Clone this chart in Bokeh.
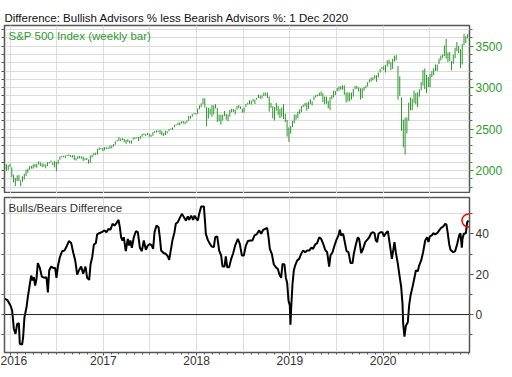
import numpy as np
import pandas as pd
from bokeh.plotting import figure
from bokeh.layouts import column
from bokeh.models import Range1d, LinearAxis, FixedTicker, Grid, Span, Label
from bokeh.embed import file_html
from bokeh.resources import INLINE

TITLE = "Difference: Bullish Advisors % less Bearish Advisors %: 1 Dec 2020"
SPX_LABEL = "S&P 500 Index (weekly bar)"
DIFF_LABEL = "Bulls/Bears Difference"

# ---- S&P 500 weekly bars (week ending Fridays, first week 11 Dec 2015) ----
spx_first_week = "2015-12-11"
spx_low = [
    2012, 1993, 2005, 2043,
    1918, 1857, 1812, 1872, 1872, 1810, 1865, 1891, 1931, 1970,
    2008, 2022, 2022, 2039, 2033, 2074, 2052, 2039, 2045, 2026,
    2052, 2085, 2097, 2065, 2037, 1992, 2075, 2130, 2158, 2159,
    2147, 2175, 2172, 2160, 2157, 2127, 2119, 2139, 2145, 2142,
    2114, 2124, 2125, 2083, 2091, 2156, 2182, 2187, 2192, 2248,
    2254, 2233,
    2245, 2258, 2259, 2263, 2267, 2288, 2311, 2352, 2356, 2354,
    2366, 2342, 2322, 2344, 2328, 2323, 2372, 2378, 2387, 2353,
    2382, 2407, 2427, 2416, 2428, 2405, 2407, 2419, 2454, 2459,
    2465, 2437, 2425, 2417, 2428, 2447, 2474, 2495, 2488, 2521,
    2544, 2548, 2544, 2566, 2566, 2557, 2576, 2598, 2624, 2648,
    2676, 2673,
    2683, 2739, 2765, 2800, 2759, 2533, 2625, 2675, 2647, 2675,
    2748, 2586, 2594, 2553, 2605, 2657, 2612, 2594, 2649, 2702,
    2707, 2676, 2734, 2750, 2743, 2698, 2698, 2767, 2795, 2801,
    2795, 2830, 2802, 2854, 2875, 2864, 2868, 2898, 2903, 2874,
    2710, 2755, 2628, 2603, 2722, 2670, 2631, 2649, 2621, 2583,
    2409, 2346,
    2444, 2525, 2569, 2612, 2631, 2682, 2703, 2764, 2775, 2722,
    2743, 2800, 2785, 2848, 2880, 2896, 2898, 2900, 2825, 2800,
    2805, 2750, 2728, 2860, 2880, 2912, 2955, 2964, 2975, 2975,
    2914, 2822, 2834, 2834, 2856, 2891, 2980, 2985, 2952, 2856,
    2874, 2962, 2992, 3013, 3062, 3073, 3088, 3108, 3070, 3123,
    3183, 3223,
    3212, 3182, 3254, 3280, 3214, 3226, 3315, 3328, 2855, 2901,
    2478, 2280, 2192, 2447, 2600, 2726, 2728, 2816, 2798, 2766,
    2891, 2967, 3025, 2984, 2933, 3007, 3002, 3127, 3151, 3202,
    3200, 3285, 3328, 3355, 3379, 3349, 3310, 3322, 3209, 3288,
    3354, 3440, 3415, 3234, 3279, 3511, 3539, 3594,
]
spx_high = [
    2080, 2076, 2065, 2081,
    2038, 1950, 1910, 1940, 1947, 1882, 1930, 1962, 2009, 2022,
    2052, 2056, 2075, 2076, 2083, 2111, 2099, 2084, 2084, 2071,
    2100, 2105, 2120, 2097, 2113, 2103, 2131, 2169, 2175, 2177,
    2183, 2188, 2193, 2187, 2184, 2188, 2151, 2175, 2175, 2169,
    2169, 2147, 2152, 2132, 2182, 2189, 2214, 2214, 2261, 2278,
    2272, 2273,
    2282, 2280, 2279, 2301, 2300, 2319, 2352, 2368, 2401, 2385,
    2390, 2382, 2370, 2378, 2361, 2362, 2398, 2399, 2404, 2405,
    2418, 2440, 2446, 2441, 2454, 2443, 2432, 2463, 2477, 2484,
    2480, 2490, 2474, 2454, 2480, 2472, 2500, 2508, 2520, 2552,
    2557, 2576, 2582, 2592, 2597, 2590, 2605, 2658, 2658, 2680,
    2695, 2692,
    2748, 2787, 2810, 2873, 2871, 2764, 2755, 2747, 2789, 2786,
    2801, 2755, 2675, 2672, 2675, 2718, 2683, 2677, 2732, 2743,
    2742, 2736, 2780, 2791, 2774, 2747, 2764, 2804, 2816, 2848,
    2841, 2863, 2855, 2877, 2916, 2906, 2908, 2941, 2940, 2939,
    2894, 2817, 2776, 2766, 2815, 2782, 2746, 2760, 2800, 2686,
    2609, 2520,
    2538, 2598, 2675, 2675, 2709, 2738, 2778, 2795, 2813, 2817,
    2830, 2861, 2836, 2894, 2911, 2917, 2940, 2954, 2932, 2892,
    2891, 2840, 2884, 2910, 2964, 2959, 2996, 3014, 3018, 3028,
    3027, 2943, 2943, 2939, 2940, 2985, 3021, 3022, 3002, 2993,
    2993, 3008, 3027, 3066, 3098, 3121, 3127, 3154, 3149, 3183,
    3226, 3248,
    3258, 3275, 3330, 3338, 3307, 3347, 3385, 3393, 3260, 3137,
    2882, 2614, 2637, 2642, 2819, 2880, 2869, 2965, 2936, 2945,
    2980, 3068, 3211, 3233, 3155, 3128, 3166, 3198, 3236, 3280,
    3279, 3352, 3387, 3399, 3509, 3588, 3425, 3429, 3320, 3397,
    3483, 3550, 3502, 3464, 3529, 3645, 3620, 3644,
]

# ---- Bulls/Bears difference (time in decimal years, value in %) ----
diff_time = [
    2015.945, 2015.970, 2016.005, 2016.023, 2016.041, 2016.059, 2016.077, 2016.095, 2016.105, 2016.130,
    2016.141, 2016.155, 2016.177, 2016.191, 2016.213, 2016.227, 2016.241, 2016.255, 2016.270, 2016.284,
    2016.298, 2016.320, 2016.341, 2016.370, 2016.391, 2016.406, 2016.420, 2016.441, 2016.463, 2016.484,
    2016.498, 2016.513, 2016.534, 2016.559, 2016.584, 2016.606, 2016.631, 2016.656, 2016.677, 2016.699,
    2016.720, 2016.741, 2016.763, 2016.784, 2016.809, 2016.827, 2016.849, 2016.863, 2016.881, 2016.899,
    2016.920, 2016.934, 2016.956, 2016.988, 2017.013, 2017.034, 2017.056, 2017.077, 2017.099, 2017.120,
    2017.141, 2017.163, 2017.177, 2017.191, 2017.206, 2017.220, 2017.241, 2017.263, 2017.277, 2017.291,
    2017.306, 2017.327, 2017.349, 2017.370, 2017.392, 2017.413, 2017.434, 2017.456, 2017.477, 2017.499,
    2017.520, 2017.534, 2017.549, 2017.570, 2017.592, 2017.606, 2017.620, 2017.649, 2017.670, 2017.692,
    2017.706, 2017.720, 2017.742, 2017.763, 2017.777, 2017.799, 2017.820, 2017.842, 2017.863, 2017.885,
    2017.906, 2017.920, 2017.942, 2017.963, 2017.978, 2017.999, 2018.013, 2018.028, 2018.049, 2018.078,
    2018.092, 2018.099, 2018.120, 2018.142, 2018.163, 2018.185, 2018.199, 2018.221, 2018.242, 2018.263,
    2018.278, 2018.299, 2018.313, 2018.328, 2018.349, 2018.371, 2018.392, 2018.413, 2018.442, 2018.463,
    2018.485, 2018.506, 2018.528, 2018.549, 2018.578, 2018.599, 2018.621, 2018.642,
    2018.671, 2018.692, 2018.714, 2018.735, 2018.756, 2018.771, 2018.785, 2018.806, 2018.828, 2018.849,
    2018.871, 2018.885, 2018.906, 2018.921, 2018.942, 2018.956, 2018.971, 2018.985, 2018.999, 2019.006,
    2019.014, 2019.028, 2019.042, 2019.056, 2019.078, 2019.099, 2019.121, 2019.142, 2019.164, 2019.185,
    2019.207, 2019.228, 2019.249, 2019.271, 2019.292, 2019.314, 2019.335, 2019.357, 2019.378, 2019.399,
    2019.421, 2019.435, 2019.457, 2019.478, 2019.499, 2019.521, 2019.535, 2019.550, 2019.571, 2019.585,
    2019.607, 2019.628, 2019.650, 2019.671, 2019.685, 2019.707, 2019.728, 2019.742, 2019.764, 2019.785,
    2019.807, 2019.828, 2019.850, 2019.871, 2019.892, 2019.907, 2019.921, 2019.935, 2019.950, 2019.971,
    2019.992, 2020.007, 2020.028, 2020.050, 2020.064, 2020.078, 2020.093, 2020.107, 2020.121, 2020.135,
    2020.157, 2020.171, 2020.193, 2020.207, 2020.214, 2020.228, 2020.243, 2020.264, 2020.278, 2020.293,
    2020.314, 2020.335, 2020.350, 2020.371, 2020.385, 2020.407, 2020.428, 2020.450, 2020.471, 2020.485,
    2020.500, 2020.521, 2020.536, 2020.557, 2020.578, 2020.600, 2020.621, 2020.643, 2020.664, 2020.678,
    2020.693, 2020.707, 2020.721, 2020.750, 2020.771, 2020.793, 2020.814, 2020.828, 2020.843, 2020.850,
    2020.864, 2020.886, 2020.900, 2020.914,
]
diff_value = [
    7.8, 7.3, 4.5, 2.0, -7.0, -9.6, -4.6, -4.3, -14.5, -14.9,
    -11.0, -1.3, 3.6, 8.6, 15.2, 19.3, 16.9, 18.5, 14.4, 17.7,
    25.5, 23.1, 18.8, 18.2, 18.5, 11.0, 21.8, 23.8, 23.1, 23.1,
    18.2, 23.8, 28.4, 31.4, 31.7, 33.7, 36.4, 35.4, 30.9, 26.8,
    19.8, 22.1, 23.8, 20.2, 23.8, 18.2, 17.2, 24.8, 28.4, 34.7,
    35.4, 39.7, 40.3, 41.0, 41.7, 40.8, 42.5, 42.0, 45.0, 44.1,
    45.3, 46.9, 43.3, 38.3, 36.7, 38.3, 31.4, 37.5, 34.2, 36.7,
    33.1, 38.3, 41.3, 40.8, 33.1, 31.4, 36.7, 32.1, 34.2, 35.0,
    34.2, 32.6, 40.8, 44.1, 43.3, 38.3, 31.7, 30.4, 30.1, 28.8,
    27.1, 30.9, 37.0, 40.8, 45.0, 45.8, 47.9, 49.9, 48.3, 46.6,
    48.6, 46.9, 49.0, 46.9, 49.0, 47.4, 46.6, 49.9, 53.6, 53.6,
    45.0, 40.0, 37.0, 35.0, 33.7, 33.4, 38.3, 38.7, 31.7, 29.3,
    23.8, 23.8, 28.8, 23.5, 23.5, 27.6, 30.4, 34.2, 37.5, 35.0,
    29.3, 29.3, 34.2, 36.4, 36.7, 36.7, 39.2, 39.7,
    41.7, 40.0, 42.0, 42.5, 43.0, 38.3, 32.6, 30.1, 24.8, 23.5,
    22.6, 20.2, 18.2, 25.1, 24.8, 18.5, 15.5, 6.9, 4.5, -5.0,
    3.6, 15.2, 21.8, 24.3, 26.8, 27.6, 30.1, 31.7, 30.9, 31.7,
    31.7, 33.1, 32.6, 34.7, 35.4, 38.3, 37.5, 35.0, 32.1, 30.9,
    23.8, 29.3, 30.9, 34.2, 37.0, 39.2, 42.0, 39.2, 40.0, 36.7,
    31.4, 30.9, 25.5, 25.5, 30.1, 34.7, 38.3, 37.5, 30.4, 32.6,
    35.9, 37.0, 38.3, 40.3, 40.8, 40.3, 36.7, 35.9, 40.0, 40.8,
    40.8, 38.7, 40.3, 41.3, 37.0, 32.6, 27.6, 31.7, 35.9, 30.9,
    25.1, 20.5, 13.6, 5.3, -4.6, -10.9, -5.5, -3.8, 4.5, 9.4,
    13.6, 18.2, 21.8, 21.5, 24.3, 26.8, 30.9, 36.7, 38.3, 35.9,
    38.7, 39.2, 40.3, 39.7, 40.3, 41.7, 43.0, 43.6, 45.0, 44.6,
    40.0, 35.0, 32.1, 30.9, 31.4, 35.0, 39.2, 40.3, 33.1, 37.5,
    40.0, 40.3, 45.8, 46.6,
]

year_ticks = [2016, 2017, 2018, 2019, 2020]
year_labels = ["2016", "2017", "2018", "2019", "2020"]
spx_ticks = [2000, 2500, 3000, 3500]
spx_tick_labels = ["2000", "2500", "3000", "3500"]
diff_ticks = [0, 20, 40]
diff_tick_labels = ["0", "20", "40"]

FONT = "Liberation Sans"
GREEN = "#2f9a2f"
BAR_GREEN = "#2a962a"
GRID = "#dcdcdc"
FRAME = "#555555"
AXTEXT = "#333333"
TXT = "11.5px"

# tick / grid helper positions
month_ticks = [2015.9167 + k / 12 for k in range(0, 61)]
half_years = [2016 + k * 0.5 for k in range(0, 10)]
spx_minor = list(range(1800, 3800, 100))
diff_minor = list(range(-10, 60, 10))

weeks = pd.date_range(spx_first_week, periods=len(spx_high), freq="W-FRI")
days_in_year = np.where(weeks.is_leap_year, 366.0, 365.0)
spx_t = np.asarray(weeks.year + (weeks.dayofyear - 1) / days_in_year, dtype=float)

xr = Range1d(2015.941, 2020.925)

common = dict(width=505, x_range=xr, toolbar_location=None, output_backend="svg",
              x_axis_location=None, y_axis_location=None,
              min_border_left=4, min_border_right=36,
              background_fill_color="white", border_fill_color="white",
              outline_line_color=FRAME, outline_line_width=1.5)

# ---------------- top panel ----------------
top = figure(height=193, y_range=Range1d(1722, 3750), min_border_top=25, min_border_bottom=0,
             **common)
top.title.text = TITLE
top.title.text_font = FONT
top.title.text_font_size = TXT
top.title.text_font_style = "normal"
top.title.text_color = "#111111"
top.title.align = "left"
top.title.standoff = 3

top.add_layout(Grid(dimension=0, ticker=FixedTicker(ticks=half_years), grid_line_color=GRID))
top.add_layout(Grid(dimension=1, ticker=FixedTicker(ticks=spx_minor), grid_line_color=GRID))

la = LinearAxis(ticker=FixedTicker(ticks=spx_minor),
                major_label_overrides={t: "" for t in spx_minor},
                axis_line_color=None, major_tick_in=0, major_tick_out=3,
                major_tick_line_color=FRAME, major_label_standoff=0,
                minor_tick_line_color=None)
top.add_layout(la, "left")
ra = LinearAxis(ticker=FixedTicker(ticks=spx_ticks, minor_ticks=spx_minor),
                major_label_overrides=dict(zip(spx_ticks, spx_tick_labels)),
                axis_line_color=None, major_tick_in=0, major_tick_out=4,
                minor_tick_in=0, minor_tick_out=3,
                major_tick_line_color=GREEN, minor_tick_line_color=GREEN,
                major_label_text_color=GREEN, major_label_text_font=FONT,
                major_label_text_font_size="12px", major_label_standoff=2)
top.add_layout(ra, "right")

top.segment(x0=spx_t, y0=spx_low, x1=spx_t, y1=spx_high, line_color=BAR_GREEN, line_width=1)
top.add_layout(Label(x=xr.start, y=3750, x_offset=4, y_offset=-4, text=SPX_LABEL,
                     text_baseline="top", text_font=FONT, text_font_size=TXT,
                     text_color=GREEN))

# ---------------- bottom panel ----------------
bot = figure(height=180, y_range=Range1d(-18.8, 58.0), min_border_top=4, min_border_bottom=21,
             **common)

bot.add_layout(Grid(dimension=0, ticker=FixedTicker(ticks=half_years), grid_line_color=GRID))
bot.add_layout(Grid(dimension=1, ticker=FixedTicker(ticks=diff_minor), grid_line_color=GRID))

lb = LinearAxis(ticker=FixedTicker(ticks=diff_minor),
                major_label_overrides={t: "" for t in diff_minor},
                axis_line_color=None, major_tick_in=0, major_tick_out=3,
                major_tick_line_color=FRAME, major_label_standoff=0,
                minor_tick_line_color=None)
bot.add_layout(lb, "left")
rb = LinearAxis(ticker=FixedTicker(ticks=diff_ticks, minor_ticks=diff_minor),
                major_label_overrides=dict(zip(diff_ticks, diff_tick_labels)),
                axis_line_color=None, major_tick_in=0, major_tick_out=4,
                minor_tick_in=0, minor_tick_out=3,
                major_tick_line_color=FRAME, minor_tick_line_color=FRAME,
                major_label_text_color=AXTEXT, major_label_text_font=FONT,
                major_label_text_font_size="12px", major_label_standoff=2)
bot.add_layout(rb, "right")
xb = LinearAxis(ticker=FixedTicker(ticks=year_ticks, minor_ticks=month_ticks),
                major_label_overrides=dict(zip(year_ticks, year_labels)),
                axis_line_color=None, major_tick_in=0, major_tick_out=3,
                minor_tick_in=0, minor_tick_out=2,
                major_tick_line_color=FRAME, minor_tick_line_color=FRAME,
                major_label_text_color=AXTEXT, major_label_text_font=FONT,
                major_label_text_font_size="12px", major_label_standoff=0)
bot.add_layout(xb, "below")

bot.add_layout(Span(location=0, dimension="width", line_color="#222222", line_width=1))
bot.line(diff_time, diff_value, line_color="black", line_width=2)
bot.scatter(x=[diff_time[-1]], y=[diff_value[-1]], size=13, marker="circle",
            fill_color=None, line_color="red", line_width=1.5)
bot.add_layout(Label(x=xr.start, y=58.0, x_offset=4, y_offset=-4, text=DIFF_LABEL,
                     text_baseline="top", text_font=FONT, text_font_size=TXT,
                     text_color=AXTEXT))

layout = column(top, bot, spacing=0)

open("out.html", "w").write(file_html(layout, INLINE))
